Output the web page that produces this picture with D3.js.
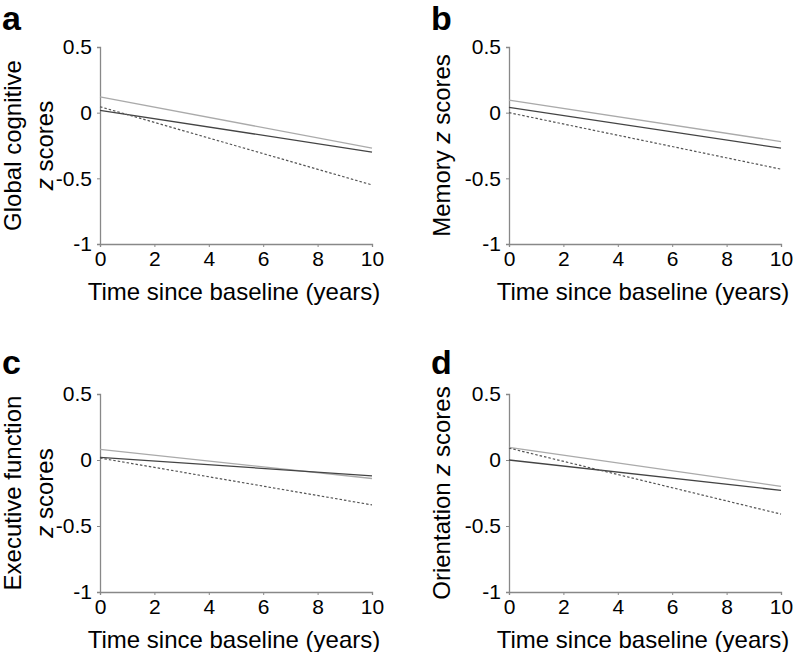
<!DOCTYPE html>
<html><head><meta charset="utf-8">
<script src="https://cdn.jsdelivr.net/npm/d3@7"></script>
<style>body{margin:0;background:#fff}svg{display:block;font-family:"Liberation Sans",Arial,sans-serif}</style>
</head><body>
<svg id="chart" width="793" height="652"></svg>
<script>
// Data: predicted z-score trajectories at years 0 and 10
const years = [0, 10];
const panelLetters = ["a", "b", "c", "d"];
const yTitles = [["Global cognitive", "z scores"], ["Memory z scores"], ["Executive function", "z scores"], ["Orientation z scores"]];
const xTicks = [0, 2, 4, 6, 8, 10];
const yTicks = [0.5, 0, -0.5, -1];
const yTickLabels = ["0.5", "0", "-0.5", "-1"];
// series per panel [a, b, c, d]
const lightSeries = [[0.12, -0.27], [0.095, -0.22], [0.08, -0.14], [0.095, -0.20]];
const solidSeries = [[0.018, -0.30], [0.04, -0.27], [0.02, -0.12], [0.0, -0.23]];
const dashedSeries = [[0.045, -0.55], [0.0, -0.43], [0.015, -0.34], [0.09, -0.41]];

const svg = d3.select("#chart");
const panels = [
  {x0: 100, x1: 372, y0: 47, y1: 244, lx: 2, ly: 30, titleX: [13, 45]},
  {x0: 509, x1: 781, y0: 47, y1: 244, lx: 431, ly: 30, titleX: [442]},
  {x0: 100, x1: 372, y0: 394, y1: 592, lx: 2, ly: 374, titleX: [13, 45]},
  {x0: 509, x1: 781, y0: 394, y1: 592, lx: 431, ly: 374, titleX: [442]}
];

panels.forEach((p, i) => {
  const g = svg.append("g");
  const x = d3.scaleLinear().domain([0, 10]).range([p.x0, p.x1]);
  const y = d3.scaleLinear().domain([-1, 0.5]).range([p.y1, p.y0]);

  const xa = g.append("g").attr("transform", `translate(0,${p.y1})`)
    .call(d3.axisBottom(x).tickValues(xTicks).tickSize(3).tickPadding(3).tickFormat(d3.format("d")));
  const ya = g.append("g").attr("transform", `translate(${p.x0},0)`)
    .call(d3.axisLeft(y).tickValues(yTicks).tickSize(3).tickPadding(5).tickFormat((d, k) => yTickLabels[k]));
  [xa, ya].forEach(a => {
    a.select(".domain").attr("stroke", "#888").attr("stroke-width", 1.3);
    a.selectAll(".tick line").attr("stroke", "#888");
    a.selectAll(".tick text").attr("fill", "#000").style("font-size", "21px");
  });
  xa.selectAll(".tick text").attr("dy", "0.78em");

  const line = d3.line().x((d, k) => x(years[k])).y(d => y(d));
  g.append("path").datum(lightSeries[i]).attr("d", line).attr("fill", "none").attr("stroke", "#aaa").attr("stroke-width", 1.3);
  g.append("path").datum(solidSeries[i]).attr("d", line).attr("fill", "none").attr("stroke", "#444").attr("stroke-width", 1.3);
  g.append("path").datum(dashedSeries[i]).attr("d", line).attr("fill", "none").attr("stroke", "#555").attr("stroke-width", 1.2).attr("stroke-dasharray", "2.5,2");

  // x title
  g.append("text").attr("x", (p.x0 + p.x1) / 2 - 2).attr("y", p.y1 + 56)
    .attr("text-anchor", "middle").style("font-size", "24px").text("Time since baseline (years)");

  // y title
  const cy = (p.y0 + p.y1) / 2;
  yTitles[i].forEach((t, k) => {
    const tx = g.append("text").attr("transform", `translate(${p.titleX[k] + 8},${cy}) rotate(-90)`)
      .attr("text-anchor", "middle").style("font-size", "24px");
    const parts = t.split("z scores");
    if (parts.length > 1) {
      tx.append("tspan").text(parts[0]);
      tx.append("tspan").style("font-style", "italic").text("z");
      tx.append("tspan").text(" scores");
    } else {
      tx.text(t);
    }
  });

  // panel letter
  g.append("text").attr("x", p.lx).attr("y", p.ly).style("font-size", "34px").style("font-weight", "bold").text(panelLetters[i]);
});
</script>
</body></html>
